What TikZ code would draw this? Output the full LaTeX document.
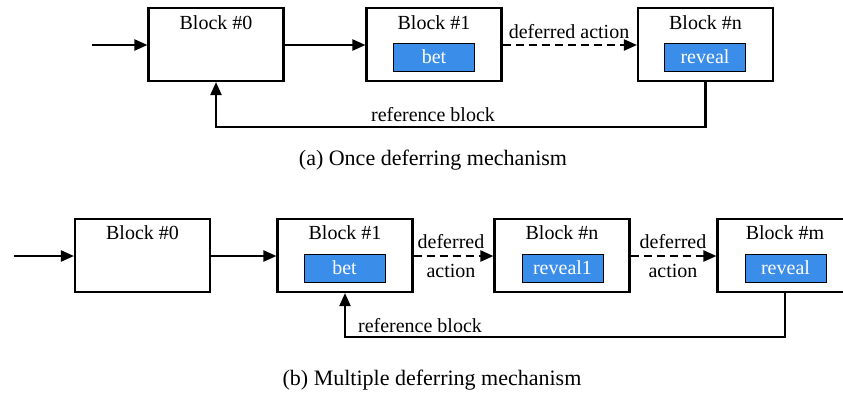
\documentclass[tikz,border=0pt]{standalone}
\usepackage{fontspec}
\setmainfont{Liberation Serif}
\usetikzlibrary{arrows.meta}
\definecolor{betblue}{RGB}{59,141,234}
\tikzset{
  x=1pt, y=-1pt,
  blockbox/.style={draw, line width=2.1pt, minimum width=135pt, minimum height=73pt, inner sep=0pt},
  actbox/.style={draw, line width=1pt, fill=betblue, text=white, minimum width=81pt, minimum height=28pt, inner sep=0pt, font=\fontsize{20}{22}\selectfont},
  title/.style={font=\fontsize{20}{22}\selectfont, inner sep=0pt},
  lbl/.style={font=\fontsize{20}{22}\selectfont, inner sep=0pt, align=center},
  captiontext/.style={font=\fontsize{22}{24}\selectfont, inner sep=0pt},
  arr/.style={line width=2.1pt, -{Triangle[length=13pt,width=11pt]}},
  darr/.style={arr, dash pattern=on 8pt off 5pt},
  fb/.style={line width=2.1pt, -{Triangle[length=13pt,width=11pt]}}
}
\begin{document}
\begin{tikzpicture}
\useasboundingbox (0,0) rectangle (843,397);
% ---------- (a) ----------
\node[blockbox] (a0) at (216,44.5) {};
\node[blockbox] (a1) at (434,44.5) {};
\node[blockbox] (an) at (705.5,44.5) {};
\node[title] (a0t) at (216,23) {Block \#0};
\node[title] (a1t) at (434,23) {Block \#1};
\node[title] (ant) at (705.5,23) {Block \#n};
\node[actbox] (abet) at (434,57) {bet};
\node[actbox] (arev) at (705,57) {reveal};
\coordinate (ain) at (92,45);
\draw[arr] (ain) -- (a0.west |- ain);
\draw[arr] (a0.east |- ain) -- (a1.west |- ain);
\draw[darr] (a1.east |- ain) -- (an.west |- ain);
\node[lbl] (adef) at (569,32) {deferred action};
\coordinate (afb) at (0,127);
\draw[fb] (an.south) -- (an.south |- afb) -- (a0.south |- afb) -- (a0.south);
\node[lbl] (aref) at (433,115) {reference block};
\node[captiontext] (acap) at (433,160) {(a) Once deferring mechanism};
% ---------- (b) ----------
\node[blockbox] (b0) at (142.5,255.5) {};
\node[blockbox] (b1) at (345,255.5) {};
\node[blockbox] (bn) at (562,255.5) {};
\node[blockbox] (bm) at (785,255.5) {};
\node[title] (b0t) at (142.5,233) {Block \#0};
\node[title] (b1t) at (345,233) {Block \#1};
\node[title] (bnt) at (562,233) {Block \#n};
\node[title] (bmt) at (785,233) {Block \#m};
\node[actbox] (bbet) at (344.5,268) {bet};
\node[actbox] (brev1) at (562.5,268) {reveal1};
\node[actbox] (brev) at (785.5,268) {reveal};
\coordinate (bin) at (14,256);
\draw[arr] (bin) -- (b0.west |- bin);
\draw[arr] (b0.east |- bin) -- (b1.west |- bin);
\draw[darr] (b1.east |- bin) -- (bn.west |- bin);
\draw[darr] (bn.east |- bin) -- (bm.west |- bin);
\node[lbl] (bdef1) at (451,256.5) {deferred\\[7pt]action};
\node[lbl] (bdef2) at (673,256.5) {deferred\\[7pt]action};
\coordinate (bfb) at (0,337);
\draw[fb] (bm.south) -- (bm.south |- bfb) -- (b1.south |- bfb) -- (b1.south);
\node[lbl] (bref) at (420,326) {reference block};
\node[captiontext] (bcap) at (432,380) {(b) Multiple deferring mechanism};
\end{tikzpicture}
\end{document}
